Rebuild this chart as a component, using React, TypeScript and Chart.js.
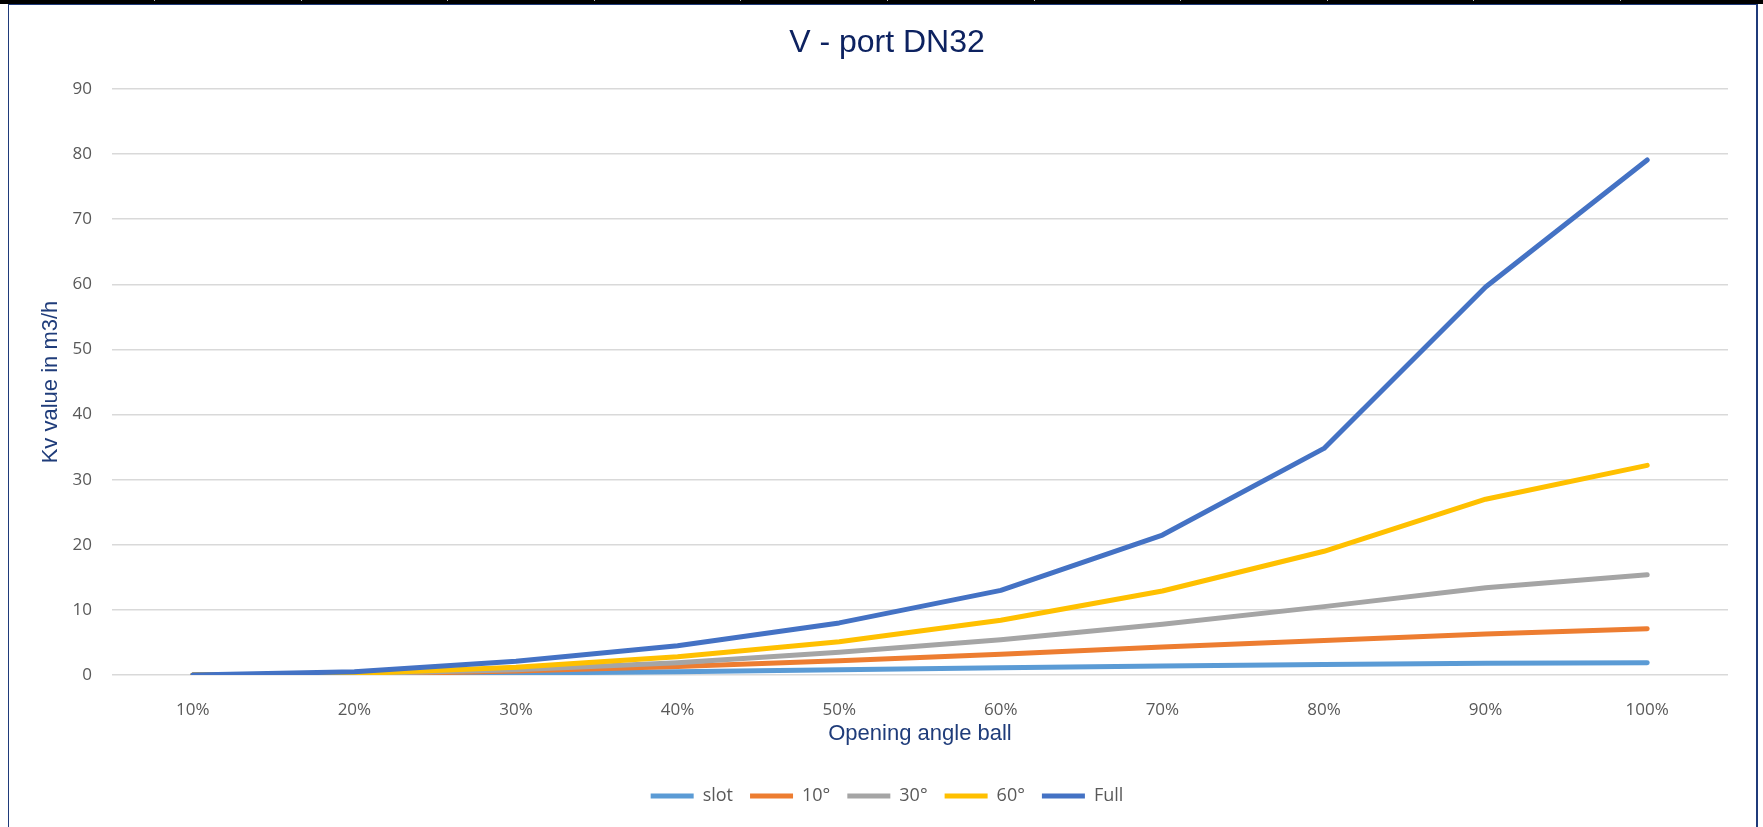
import React, { useEffect, useRef } from "react";
import { Chart, registerables } from "chart.js";

Chart.register(...registerables);

// ---- data ----
const categories = ["10%", "20%", "30%", "40%", "50%", "60%", "70%", "80%", "90%", "100%"];
const seriesNames = ["slot", "10°", "30°", "60°", "Full"];
const slotValues = [0, 0.1, 0.3, 0.5, 0.8, 1.1, 1.4, 1.6, 1.8, 1.9];
const deg10Values = [0, 0.1, 0.6, 1.3, 2.2, 3.2, 4.3, 5.3, 6.3, 7.1];
const deg30Values = [0, 0.2, 0.8, 1.9, 3.5, 5.4, 7.8, 10.5, 13.4, 15.4];
const deg60Values = [0, 0.2, 1.2, 2.8, 5.1, 8.4, 12.9, 19.0, 27.0, 32.2];
const fullValues = [0, 0.5, 2.1, 4.5, 8.0, 13.0, 21.5, 34.8, 59.6, 79.1];
const seriesValues = [slotValues, deg10Values, deg30Values, deg60Values, fullValues];
const seriesColors = ["#5B9BD5", "#ED7D31", "#A5A5A5", "#FFC000", "#4472C4"];
const yMin = 0;
const yMax = 90;
const yStep = 10;
const chartTitle = "V - port DN32";
const xTitle = "Opening angle ball";
const yTitle = "Kv value in m3/h";

const W = 1763;
const H = 827;

export default function App() {
  const ref = useRef<HTMLCanvasElement>(null);

  useEffect(() => {
    let chart: Chart | null = null;
    let cancelled = false;
    const make = () => {
      if (cancelled || !ref.current) return;
      const datasets = seriesValues.map((vals, i) => ({
        label: seriesNames[i],
        data: vals,
        borderColor: seriesColors[i],
        backgroundColor: seriesColors[i],
        borderWidth: 5,
        pointRadius: 0,
        pointHoverRadius: 0,
        pointStyle: "line",
        tension: 0,
        fill: false,
        borderCapStyle: "round",
        borderJoinStyle: "round",
        order: seriesValues.length - 1 - i,
      }));
      chart = new Chart(ref.current, {
        type: "line",
        data: { labels: categories, datasets: datasets as any },
        options: {
          animation: false,
          responsive: true,
          maintainAspectRatio: false,
          events: [],
          layout: { padding: { top: 10, left: 11, right: 0, bottom: 12 } },
          plugins: {
            title: {
              display: true,
              text: chartTitle,
              color: "#0d2260",
              font: { family: "Liberation Sans", size: 32, weight: "normal", lineHeight: 1.2 },
              padding: { top: 14.2, bottom: 26.4 },
            },
            legend: {
              position: "bottom",
              labels: {
                usePointStyle: true,
                pointStyleWidth: 43,
                padding: 17,
                color: "#595959",
                font: { family: "Open Sans", size: 18 },
                sort: (a: any, b: any) => a.datasetIndex - b.datasetIndex,
              },
            },
            tooltip: { enabled: false },
          },
          scales: {
            x: {
              type: "category",
              offset: true,
              grid: { display: false },
              border: { display: false },
              ticks: {
                color: "#595959",
                font: { family: "Open Sans", size: 17 },
                padding: 17.3,
                maxRotation: 0,
                autoSkip: false,
              },
              title: {
                display: true,
                text: xTitle,
                color: "#1f3c7a",
                font: { family: "Liberation Sans", size: 22, lineHeight: 1.2 },
                padding: { top: 0, bottom: 22.8 },
              },
              afterFit: (s: any) => {
                s.height = 95;
              },
            },
            y: {
              type: "linear",
              min: yMin,
              max: yMax,
              ticks: {
                stepSize: yStep,
                color: "#595959",
                font: { family: "Open Sans", size: 17 },
                padding: 20,
              },
              grid: { color: "#d9d9d9", lineWidth: 1.5, drawTicks: false },
              border: { display: false },
              title: {
                display: true,
                text: yTitle,
                color: "#1f3c7a",
                font: { family: "Liberation Sans", size: 22, lineHeight: 1.2 },
                padding: { top: 26.8, bottom: 0 },
              },
              afterFit: (s: any) => {
                s.width = 101;
              },
            },
            yPad: {
              type: "linear",
              position: "right",
              display: true,
              grid: { display: false },
              border: { display: false },
              ticks: { display: false },
              afterFit: (s: any) => {
                s.width = 35;
              },
            },
          },
        } as any,
      });
    };
    const fontsReady = (document as any).fonts
      ? Promise.all([
          (document as any).fonts.load('18px "Open Sans"'),
          (document as any).fonts.load('22px "Liberation Sans"'),
        ]).catch(() => null)
      : Promise.resolve(null);
    fontsReady.then(make);
    return () => {
      cancelled = true;
      if (chart) chart.destroy();
    };
  }, []);

  const tickXs: number[] = [];
  for (let x = 154; x < W; x += 146.6) tickXs.push(Math.round(x));

  return (
    <div
      style={{
        position: "fixed",
        left: 0,
        top: 0,
        width: W,
        height: H,
        background: "#ffffff",
        overflow: "hidden",
      }}
    >
      <div style={{ position: "absolute", left: 0, top: 0, width: W, height: H }}>
        <canvas ref={ref} />
      </div>
      {/* top black band */}
      <div style={{ position: "absolute", left: 0, top: 0, width: W, height: 4, background: "#000" }} />
      {tickXs.map((x) => (
        <div
          key={x}
          style={{ position: "absolute", left: x, top: 0, width: 1, height: 1, background: "#bbb" }}
        />
      ))}
      {/* navy frame */}
      <div style={{ position: "absolute", left: 8, top: 4, width: 1750, height: 1, background: "#1f3a7a" }} />
      <div style={{ position: "absolute", left: 8, top: 4, width: 1, height: H - 4, background: "#1f3a7a" }} />
      <div style={{ position: "absolute", left: 1756, top: 4, width: 2, height: H - 4, background: "#1f3a7a" }} />
    </div>
  );
}
